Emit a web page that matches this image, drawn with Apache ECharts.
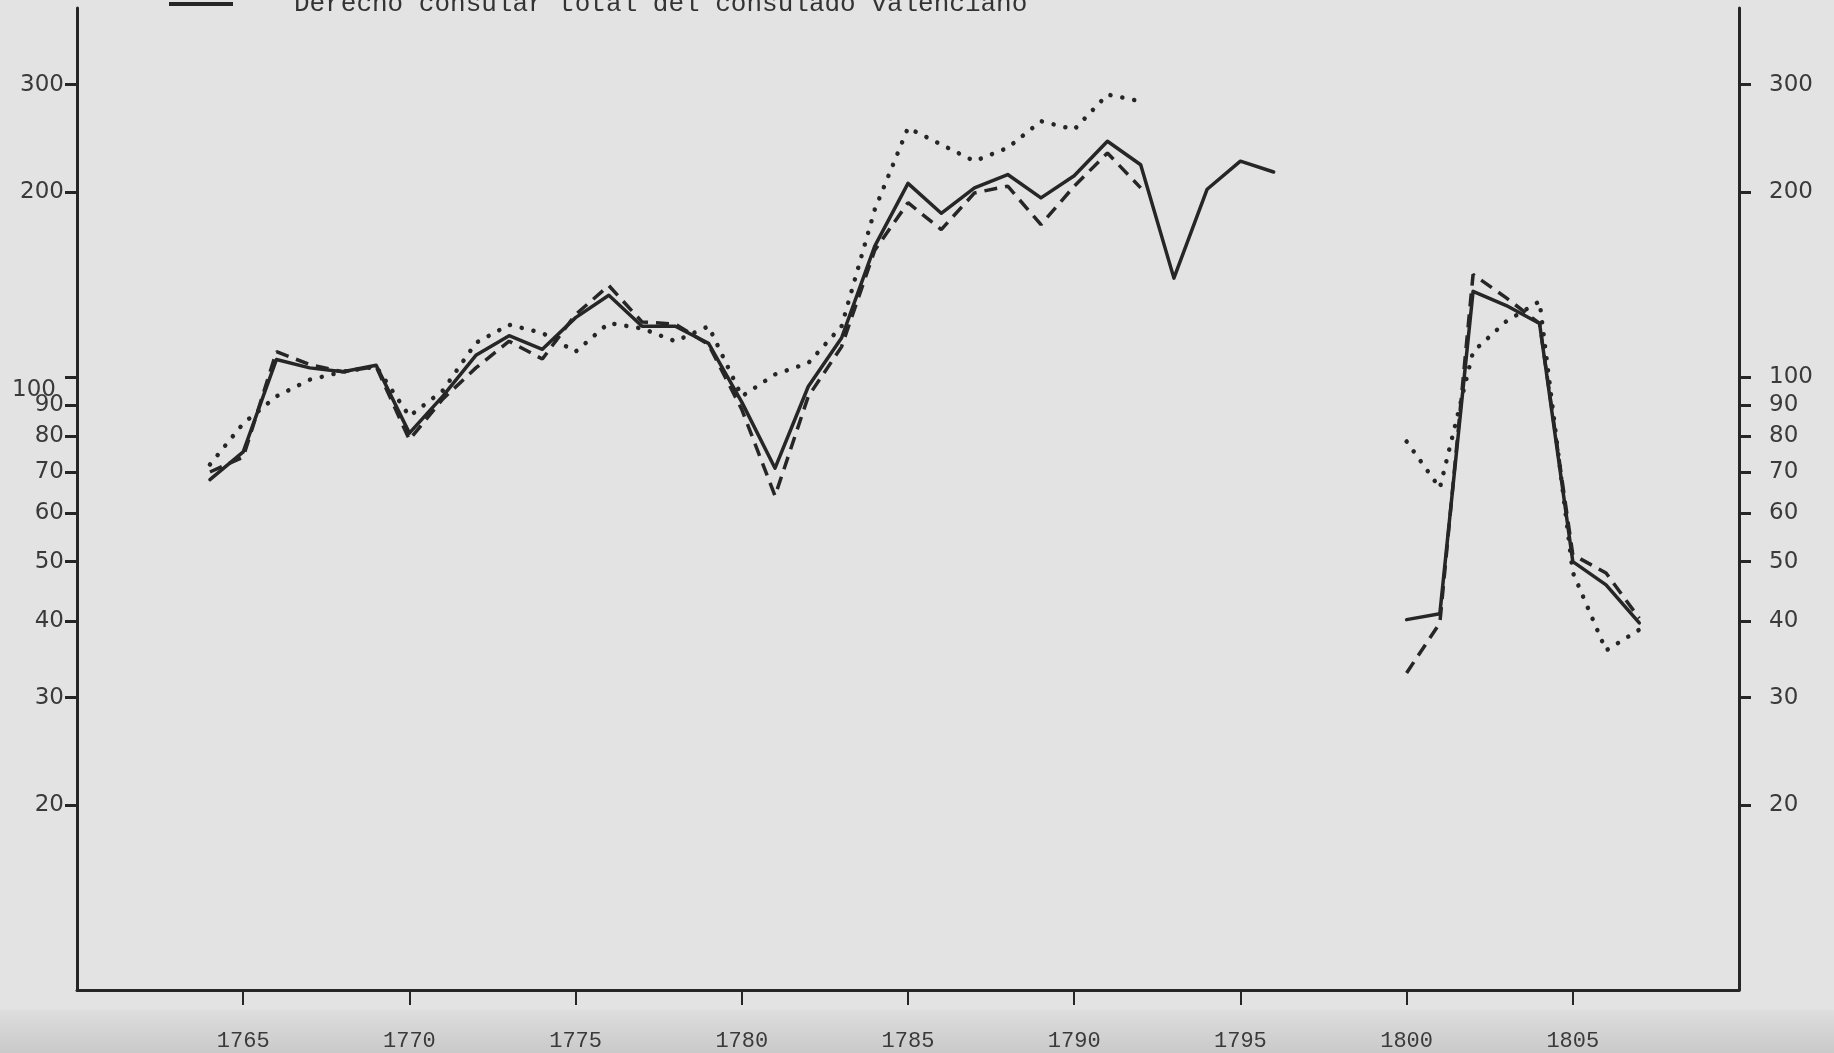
<!DOCTYPE html>
<html>
<head>
<meta charset="utf-8">
<title>Derecho consular</title>
<script src="https://cdn.jsdelivr.net/npm/echarts@6/dist/echarts.min.js"></script>
<style>
  html, body { margin: 0; padding: 0; background: #e3e3e3; }
  #chart { width: 1834px; height: 1053px; }
</style>
</head>
<body>
<div id="chart"></div>
<script>
// años del gráfico
const years = [1764, 1765, 1766, 1767, 1768, 1769, 1770, 1771, 1772, 1773,
  1774, 1775, 1776, 1777, 1778, 1779, 1780, 1781, 1782, 1783,
  1784, 1785, 1786, 1787, 1788, 1789, 1790, 1791, 1792, 1793,
  1794, 1795, 1796, 1797, 1798, 1799, 1800, 1801, 1802, 1803,
  1804, 1805, 1806, 1807];

// derecho consular total (línea continua)
const totalValues = [68, 75.5, 106.8, 103.5, 102, 104.5, 81, 93, 108.5, 116.8,
  111, 125, 136, 121, 121, 113.5, 91, 71, 96.5, 115.8,
  163.5, 207, 185, 203.5, 214, 196, 213, 242.5, 222, 145,
  202.5, 225, 216, null, null, null, 40.2, 41.1, 138, 130.8,
  122.3, 50, 45.8, 39.7];

// línea discontinua
const dashedValues = [70, 74, 110, 104.8, 102, 104, 79, 92, 103.5, 114.4,
  107, 126.5, 141, 123, 122, 113, 88.5, 64, 93, 112,
  161, 192.5, 174, 199.7, 204.8, 177.3, 204.8, 232, 203.5, null,
  null, null, null, null, null, null, 32.9, 39.7, 147, 134.6,
  122.3, 51.3, 47.9, 40.4];

// línea de puntos
const dottedValues = [72, 84, 93, 99, 102, 104, 86.3, 95, 113.7, 121.7,
  118, 110, 122.5, 120, 114.4, 121, 93, 101, 105.4, 121,
  187.6, 255, 239.5, 225, 236.6, 261.5, 253.4, 289, 281.8, null,
  null, null, null, null, null, null, 78.5, 65.9, 110, 123.3,
  132.9, 48, 35.8, 38.7];

const yearTicks = [1765, 1770, 1775, 1780, 1785, 1790, 1795, 1800, 1805];
const valueTicks = [20, 30, 40, 50, 60, 70, 80, 90, 100, 200, 300];

const legendName = 'Derecho consular total del consulado valenciano';
const ink = '#262626';

const toPairs = (vals) => years.map((y, i) => [y, vals[i]]);

const chart = echarts.init(document.getElementById('chart'));

const yAxisBase = (position, margin, shift100) => ({
  type: 'log',
  logBase: 10,
  min: 10,
  max: 400,
  position: position,
  splitLine: { show: false },
  axisLine: { show: true, lineStyle: { color: ink, width: 3 } },
  axisTick: { show: true, inside: false, length: 12, customValues: valueTicks, lineStyle: { color: ink, width: 3 } },
  axisLabel: {
    customValues: valueTicks,
    margin: margin,
    color: '#3a3a3a',
    fontFamily: 'DejaVu Sans',
    fontSize: 23,
    // en el original el "100" de la izquierda queda algo más bajo
    formatter: (v) => (shift100 && v === 100) ? '{o|100}' : String(v),
    rich: { o: { fontFamily: 'DejaVu Sans', fontSize: 23, color: '#3a3a3a', padding: [26, 8, 0, 0] } }
  }
});

const option = {
  backgroundColor: '#e3e3e3',
  animation: false,
  legend: {
    data: [legendName],
    left: 164,
    top: -14,
    icon: 'rect',
    itemWidth: 64,
    itemHeight: 4,
    textStyle: {
      fontFamily: 'Liberation Mono',
      fontSize: 26,
      color: '#333',
      padding: [0, 0, 0, 56]
    }
  },
  graphic: [
    {
      type: 'rect',
      z: -10,
      shape: { x: 0, y: 1010, width: 1834, height: 43 },
      style: {
        fill: new echarts.graphic.LinearGradient(0, 0, 0, 1, [
          { offset: 0, color: '#dedede' },
          { offset: 1, color: '#c9c9c9' }
        ])
      }
    }
  ],
  grid: { left: 77, right: 95, top: 8, bottom: 63 },
  xAxis: {
    type: 'value',
    min: 1760,
    max: 1810,
    splitLine: { show: false },
    axisLine: { show: true, lineStyle: { color: ink, width: 3 } },
    axisTick: { show: true, length: 15, customValues: yearTicks, lineStyle: { color: ink, width: 2 } },
    axisLabel: {
      customValues: yearTicks,
      margin: 40,
      color: '#3a3a3a',
      fontFamily: 'Liberation Mono',
      fontSize: 22,
      formatter: (v) => String(v)
    }
  },
  yAxis: [yAxisBase('left', 13, true), yAxisBase('right', 30, false)],
  series: [
    {
      name: legendName,
      type: 'line',
      data: toPairs(totalValues),
      showSymbol: false,
      color: ink,
      lineStyle: { color: ink, width: 3.5, join: 'round', cap: 'round' }
    },
    {
      name: 'discontinua',
      type: 'line',
      data: toPairs(dashedValues),
      showSymbol: false,
      color: ink,
      lineStyle: { color: ink, width: 3.5, type: [13, 8] }
    },
    {
      name: 'puntos',
      type: 'line',
      data: toPairs(dottedValues),
      showSymbol: false,
      color: ink,
      lineStyle: { color: ink, width: 4.5, type: [0.1, 12], cap: 'round' }
    }
  ]
};

chart.setOption(option);
window.addEventListener('resize', () => chart.resize());
</script>
</body>
</html>
